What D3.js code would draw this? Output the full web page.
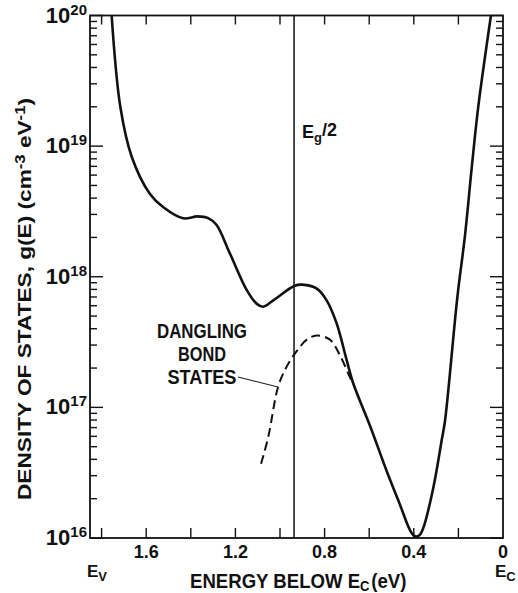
<!DOCTYPE html>
<html>
<head>
<meta charset="utf-8">
<script src="https://cdn.jsdelivr.net/npm/d3@7"></script>
<style>
  html, body { margin: 0; padding: 0; background: #fff; }
  svg { display: block; }
  .num { font-family: "Liberation Sans", Arial, sans-serif; font-weight: bold; fill: #111; }
  .lbl { font-family: "Liberation Sans", Arial, sans-serif; font-weight: bold; fill: #111; }
</style>
</head>
<body>
<svg id="chart" width="518" height="593"></svg>
<script>
// energy below Ec (eV) and density of states g(E) (cm-3 eV-1)
const totalEnergy = [1.755, 1.716, 1.665, 1.583, 1.523, 1.434, 1.370, 1.320, 1.285, 1.224,
    1.149, 1.104, 1.075, 1.030, 0.936, 0.900, 0.835, 0.791, 0.746, 0.701,
    0.673, 0.596, 0.520, 0.462, 0.417, 0.395, 0.375, 0.357, 0.312,
    0.275, 0.260, 0.205, 0.170, 0.140, 0.111, 0.054];
const totalDos = [1.0e20, 2.0e19, 8.3e18, 4.3e18, 3.4e18, 2.8e18, 2.9e18, 2.8e18, 2.5e18, 1.5e18,
    7.9e17, 6.2e17, 5.9e17, 6.6e17, 8.5e17, 8.7e17, 8.1e17, 6.6e17, 4.4e17, 2.3e17,
    1.55e17, 7.2e16, 3.2e16, 1.8e16, 1.15e16, 1.03e16, 1.05e16, 1.2e16, 2.45e16,
    5.6e16, 7.9e16, 6.9e17, 2.1e18, 6.9e18, 2.0e19, 1.0e20];

const danglingEnergy = [1.085, 1.052, 1.008, 0.970, 0.925, 0.880, 0.836, 0.776, 0.731, 0.693, 0.672];
const danglingDos = [3.7e16, 6.0e16, 1.45e17, 2.05e17, 2.7e17, 3.3e17, 3.55e17, 3.3e17, 2.5e17, 1.8e17, 1.5e17];

const egHalf = 0.937;
const xTickValues = [1.8, 1.6, 1.4, 1.2, 1.0, 0.8, 0.6, 0.4, 0.2, 0];
const xTickLabels = ["1.6", "1.2", "0.8", "0.4", "0"];
const xLabelValues = [1.6, 1.2, 0.8, 0.4, 0];
const yDecades = [16, 17, 18, 19, 20];
const bondLabel = ["DANGLING", "BOND", "STATES"];

const svg = d3.select("#chart");
const plotLeft = 90, plotRight = 503, plotTop = 15.5, plotBottom = 538;

const x = d3.scaleLinear().domain([1.852, 0]).range([plotLeft, plotRight]);
const y = d3.scaleLog().domain([1e16, 1e20]).range([plotBottom, plotTop]);

// clip for curves
svg.append("defs").append("clipPath").attr("id", "plot")
    .append("rect").attr("x", plotLeft).attr("y", plotTop)
    .attr("width", plotRight - plotLeft).attr("height", plotBottom - plotTop);

// frame
svg.append("rect")
    .attr("x", plotLeft).attr("y", plotTop)
    .attr("width", plotRight - plotLeft).attr("height", plotBottom - plotTop)
    .attr("fill", "none").attr("stroke", "#111").attr("stroke-width", 1.8);

// y ticks (inside, both sides)
const yTicks = [];
yDecades.forEach(p => {
    for (let m = 1; m <= 9; m++) {
        if (p === 20 && m > 1) break;
        yTicks.push({ v: m * Math.pow(10, p), major: m === 1 });
    }
});
const tickG = svg.append("g").attr("stroke", "#111").attr("stroke-width", 1.4);
yTicks.forEach(t => {
    const len = t.major ? 13 : 7;
    tickG.append("line").attr("x1", plotLeft).attr("x2", plotLeft + len).attr("y1", y(t.v)).attr("y2", y(t.v));
    tickG.append("line").attr("x1", plotRight).attr("x2", plotRight - len).attr("y1", y(t.v)).attr("y2", y(t.v));
});

// x ticks (inside, top and bottom)
xTickValues.forEach(v => {
    if (v === 0) return;
    tickG.append("line").attr("x1", x(v)).attr("x2", x(v)).attr("y1", plotBottom).attr("y2", plotBottom - 10);
    tickG.append("line").attr("x1", x(v)).attr("x2", x(v)).attr("y1", plotTop).attr("y2", plotTop + 9);
});

// y tick labels 10^n
yDecades.forEach(p => {
    const t = svg.append("text").attr("class", "num")
        .attr("x", 87).attr("y", y(Math.pow(10, p)) + 7)
        .attr("text-anchor", "end").attr("font-size", 22);
    t.append("tspan").text("10");
    t.append("tspan").attr("dy", -8).attr("font-size", 15).text(p);
});

// x tick labels
xLabelValues.forEach((v, i) => {
    svg.append("text").attr("class", "num")
        .attr("x", x(v)).attr("y", 558)
        .attr("text-anchor", "middle").attr("font-size", 18)
        .text(xTickLabels[i]);
});

// Ev / Ec
function bandLabel(xPos, sub) {
    const t = svg.append("text").attr("class", "num").attr("x", xPos).attr("y", 577).attr("font-size", 17);
    t.append("tspan").text("E");
    t.append("tspan").attr("dy", 4).attr("font-size", 13).text(sub);
}
bandLabel(87, "V");
bandLabel(495, "C");

// axis titles (condensed type: squeeze horizontally)
const xt = svg.append("text").attr("class", "lbl")
    .attr("transform", "translate(190,588) scale(0.93,1)")
    .attr("font-size", 20);
xt.append("tspan").text("ENERGY BELOW E");
xt.append("tspan").attr("dy", 3).attr("font-size", 14).text("C");
xt.append("tspan").attr("dy", -3).attr("dx", 2).text("(eV)");

const yt = svg.append("text").attr("class", "lbl")
    .attr("transform", "translate(31,500) rotate(-90)")
    .attr("font-size", 19)
    .attr("textLength", 402).attr("lengthAdjust", "spacingAndGlyphs");
yt.append("tspan").text("DENSITY OF STATES, g(E) (cm");
yt.append("tspan").attr("dy", -6).attr("font-size", 14).text("-3");
yt.append("tspan").attr("dy", 6).text(" eV");
yt.append("tspan").attr("dy", -6).attr("font-size", 14).text("-1");
yt.append("tspan").attr("dy", 6).text(")");

// Eg/2 line
svg.append("line")
    .attr("x1", x(egHalf)).attr("x2", x(egHalf)).attr("y1", plotTop).attr("y2", plotBottom)
    .attr("stroke", "#111").attr("stroke-width", 1.5);
const eg = svg.append("text").attr("class", "num").attr("x", 302).attr("y", 138).attr("font-size", 18);
eg.append("tspan").text("E");
eg.append("tspan").attr("dy", 4).attr("font-size", 13).text("g");
eg.append("tspan").attr("dy", -6).text("/2");

// curves
const line = d3.line()
    .x(d => x(d[0])).y(d => y(d[1]))
    .curve(d3.curveCatmullRom.alpha(0.5));

svg.append("path")
    .datum(totalEnergy.map((e, i) => [e, totalDos[i]]))
    .attr("clip-path", "url(#plot)")
    .attr("d", line)
    .attr("fill", "none").attr("stroke", "#111").attr("stroke-width", 2.6);

svg.append("path")
    .datum(danglingEnergy.map((e, i) => [e, danglingDos[i]]))
    .attr("d", line)
    .attr("fill", "none").attr("stroke", "#111").attr("stroke-width", 2)
    .attr("stroke-dasharray", "9,5");

// dangling bond label
const bondWidths = [90, 48, 69];
bondLabel.forEach((s, i) => {
    svg.append("text").attr("class", "lbl")
        .attr("x", 202 - bondWidths[i] / 2).attr("y", 338 + i * 23)
        .attr("font-size", 20)
        .attr("textLength", bondWidths[i]).attr("lengthAdjust", "spacingAndGlyphs")
        .text(s);
});
svg.append("line")
    .attr("x1", 238).attr("y1", 377).attr("x2", 278).attr("y2", 387)
    .attr("stroke", "#111").attr("stroke-width", 1);
</script>
</body>
</html>
